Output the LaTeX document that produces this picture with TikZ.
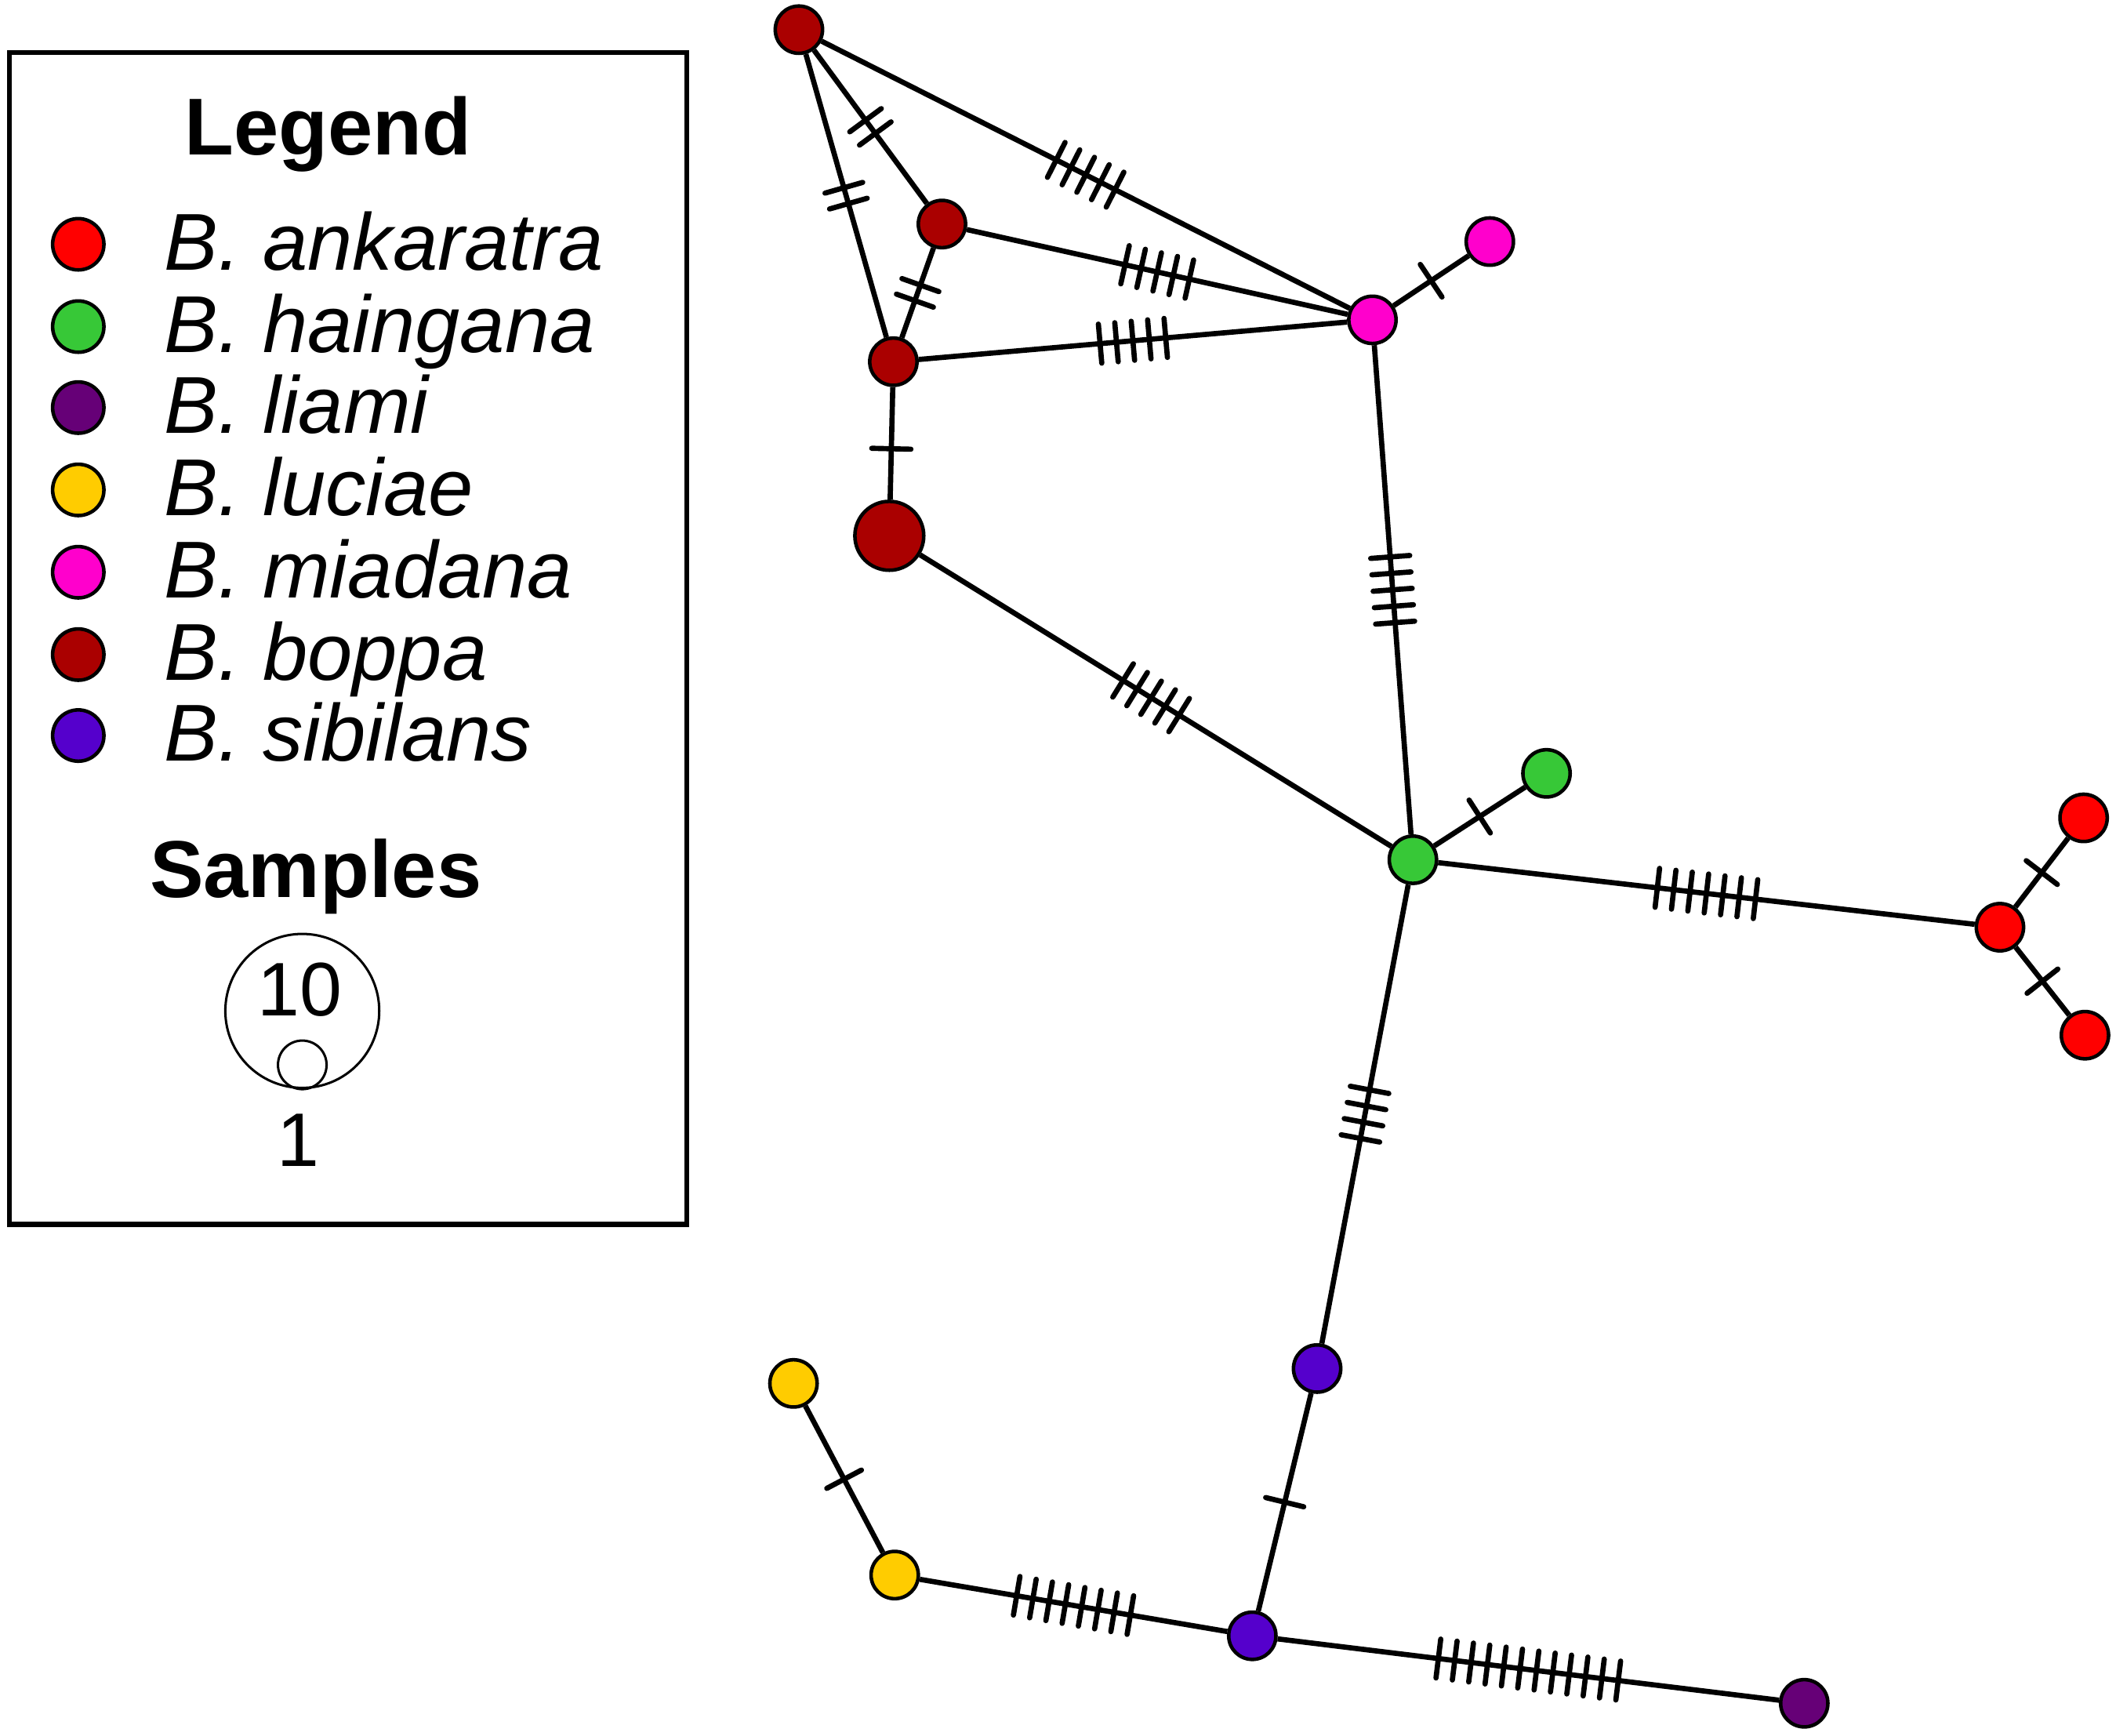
\documentclass[tikz,border=0pt]{standalone}
\usepackage{fontspec}
\setmainfont{Liberation Sans}
\usetikzlibrary{calc}
\definecolor{cAnk}{RGB}{255,0,0}
\definecolor{cHai}{RGB}{55,200,55}
\definecolor{cLia}{RGB}{102,0,119}
\definecolor{cLuc}{RGB}{255,204,0}
\definecolor{cMia}{RGB}{255,0,204}
\definecolor{cBop}{RGB}{170,0,0}
\definecolor{cSib}{RGB}{85,0,204}
\tikzset{
  hap/.style={circle,draw=black,line width=0.75pt,minimum size=0.35cm,inner sep=0pt},
  bighap/.style={hap,minimum size=0.51cm},
  legdot/.style={circle,draw=black,line width=0.75pt,minimum size=0.38cm,inner sep=0pt},
  netedge/.style={line width=1.1pt},
  tickline/.style={line width=1.1pt,line cap=round},
  headtxt/.style={font=\bfseries\fontsize{17}{20}\selectfont,anchor=base,inner sep=0pt},
  sptxt/.style={font=\itshape\fontsize{17}{20}\selectfont,anchor=base west,inner sep=0pt},
  numtxt/.style={font=\fontsize{16}{19}\selectfont,inner sep=0pt},
  sampcirc/.style={circle,draw=black,line width=0.5pt,inner sep=0pt},
}
\newcommand\mticks[3]{%
  \coordinate (tkmid) at ($(#1)!0.5!(#2)$);
  \foreach \k in {1,...,#3}{%
    \pgfmathsetmacro\tkoff{(\k-(#3+1)/2)*0.122}%
    \coordinate (tkp) at ($(tkmid)!\tkoff cm!(#2)$);
    \draw[tickline] ($(tkp)!0.145cm!90:(#2)$) -- ($(tkp)!0.145cm!-90:(#2)$);
  }%
}
\begin{document}
\begin{tikzpicture}[x=0.01cm,y=-0.01cm]
\useasboundingbox (0,0) rectangle (1568,1286);

% legend
\draw[line width=1.1pt] (7,39) rectangle (509,907);
\node[headtxt] (leg) at (243,115) {Legend};
\node[legdot,fill=cAnk] (lg1) at (58,181) {};
\node[legdot,fill=cHai] (lg2) at (58,242) {};
\node[legdot,fill=cLia] (lg3) at (58,302) {};
\node[legdot,fill=cLuc] (lg4) at (58,363) {};
\node[legdot,fill=cMia] (lg5) at (58,424) {};
\node[legdot,fill=cBop] (lg6) at (58,485) {};
\node[legdot,fill=cSib] (lg7) at (58,545) {};
\node[sptxt] (t1) at (121,200) {B. ankaratra};
\node[sptxt] (t2) at (121,261) {B. haingana};
\node[sptxt] (t3) at (121,321) {B. liami};
\node[sptxt] (t4) at (121,382) {B. luciae};
\node[sptxt] (t5) at (121,443) {B. miadana};
\node[sptxt] (t6) at (121,504) {B. boppa};
\node[sptxt] (t7) at (121,564) {B. sibilans};
\node[headtxt] (samp) at (234,665) {Samples};
\node[sampcirc,minimum size=1.14cm] (c10) at (224,749) {};
\node[sampcirc,minimum size=0.36cm] (c1) at (224,789) {};
\node[numtxt] (n10) at (222,733) {10};
\node[numtxt] (n1) at (221,845) {1};

% haplotypes
\node[hap,fill=cBop] (b1) at (592,22) {};
\node[hap,fill=cBop] (b2) at (698,166) {};
\node[hap,fill=cBop] (b3) at (662,268) {};
\node[bighap,fill=cBop] (b4) at (659,397) {};
\node[hap,fill=cMia] (m1) at (1017,237) {};
\node[hap,fill=cMia] (m2) at (1104,179) {};
\node[hap,fill=cHai] (h1) at (1047,637) {};
\node[hap,fill=cHai] (h2) at (1146,573) {};
\node[hap,fill=cAnk] (a1) at (1482,687) {};
\node[hap,fill=cAnk] (a2) at (1544,606) {};
\node[hap,fill=cAnk] (a3) at (1545,767) {};
\node[hap,fill=cSib] (s1) at (976,1014) {};
\node[hap,fill=cSib] (s2) at (928,1212) {};
\node[hap,fill=cLuc] (l1) at (663,1167) {};
\node[hap,fill=cLuc] (l2) at (588,1025) {};
\node[hap,fill=cLia] (li) at (1337,1262) {};

% edges
\draw[netedge] (b1) -- (m1);  \mticks{b1}{m1}{5}
\draw[netedge] (b1) -- (b2);  \mticks{b1}{b2}{2}
\draw[netedge] (b1) -- (b3);  \mticks{b1}{b3}{2}
\draw[netedge] (b2) -- (b3);  \mticks{b2}{b3}{2}
\draw[netedge] (b2) -- (m1);  \mticks{b2}{m1}{5}
\draw[netedge] (b3) -- (m1);  \mticks{b3}{m1}{5}
\draw[netedge] (m1) -- (m2);  \mticks{m1}{m2}{1}
\draw[netedge] (b3) -- (b4);  \mticks{b3}{b4}{1}
\draw[netedge] (b4) -- (h1);  \mticks{b4}{h1}{5}
\draw[netedge] (m1) -- (h1);  \mticks{m1}{h1}{5}
\draw[netedge] (h1) -- (h2);  \mticks{h1}{h2}{1}
\draw[netedge] (h1) -- (a1);  \mticks{h1}{a1}{7}
\draw[netedge] (a1) -- (a2);  \mticks{a1}{a2}{1}
\draw[netedge] (a1) -- (a3);  \mticks{a1}{a3}{1}
\draw[netedge] (h1) -- (s1);  \mticks{h1}{s1}{4}
\draw[netedge] (s1) -- (s2);  \mticks{s1}{s2}{1}
\draw[netedge] (s2) -- (l1);  \mticks{s2}{l1}{8}
\draw[netedge] (l1) -- (l2);  \mticks{l1}{l2}{1}
\draw[netedge] (s2) -- (li);  \mticks{s2}{li}{12}
\end{tikzpicture}
\end{document}
